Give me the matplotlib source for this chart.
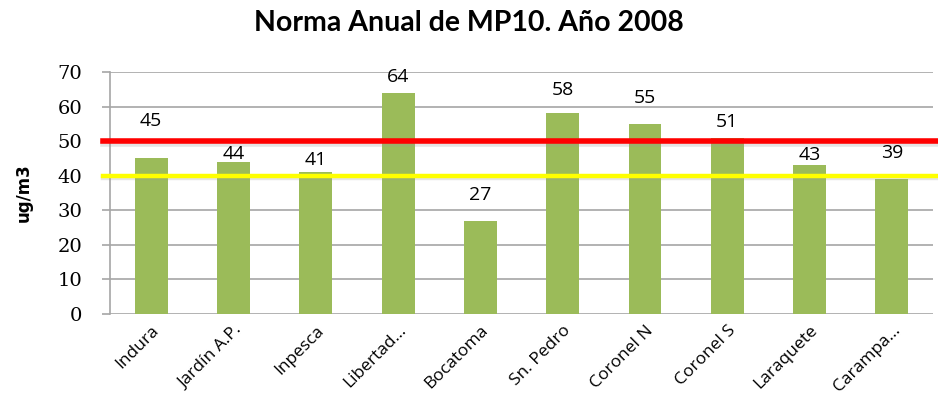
import matplotlib.pyplot as plt
import matplotlib.patheffects as pe

estaciones = ["Indura", "Jardín A.P.", "Inpesca", "Libertad...", "Bocatoma",
              "Sn. Pedro", "Coronel N", "Coronel S", "Laraquete", "Carampa..."]
mp10 = [45, 44, 41, 64, 27, 58, 55, 51, 43, 39]
norma_cl = 50
norma_eu = 40

# label shifts (points) as they were dragged in the original chart
label_dy = [27, 6, 8.6, 11, 18.5, 17, 18.6, 11.3, 7.4, 18.7]

fig = plt.figure(figsize=(9.38, 4.19), dpi=100)
ax = fig.add_axes([0.1173, 0.2506, 0.8774, 0.5776])

x = range(len(estaciones))
ax.bar(x, mp10, width=0.4, color="#9BBB59", zorder=2)

for i, v in enumerate(mp10):
    ax.annotate(str(v), (i, v), xytext=(0, label_dy[i]), textcoords="offset points",
                ha="center", va="center", fontsize=14, family="Open Sans", zorder=5)

shadow = [pe.SimpleLineShadow(offset=(0, -2), shadow_color="#999999", alpha=0.25),
          pe.Normal()]
ax.axhline(norma_cl, xmin=-0.009, xmax=1.006, color="#FF0000", lw=4,
           clip_on=False, zorder=4, path_effects=shadow)
ax.axhline(norma_eu, xmin=-0.009, xmax=1.006, color="#FFFF00", lw=3.2,
           clip_on=False, zorder=4, path_effects=shadow)

ax.set_xlim(-0.5, len(estaciones) - 0.5)
ax.set_ylim(0, 70)
ax.set_yticks(range(0, 71, 10))
ax.yaxis.grid(True, color="#A6A6A6", lw=1.2, zorder=0)
ax.set_axisbelow(True)

for s in ["top", "right", "bottom"]:
    ax.spines[s].set_visible(False)
ax.spines["left"].set_color("#A6A6A6")
ax.spines["left"].set_linewidth(1.2)
ax.tick_params(axis="y", length=6, color="#A6A6A6", width=1.2, labelsize=14, pad=14)
ax.tick_params(axis="x", length=0, pad=6)
for t in ax.get_yticklabels():
    t.set_family("DejaVu Serif")

ax.set_xticks(list(x))
ax.set_xticklabels(estaciones, rotation=45, ha="right", rotation_mode="anchor",
                   fontsize=12.5, family="Open Sans")

ax.set_ylabel("ug/m3", fontsize=12, fontweight="bold", family="DejaVu Sans", labelpad=18)

fig.text(0.5, 0.945, "Norma Anual de MP10. Año 2008", ha="center", va="center",
         fontsize=20.5, fontweight="bold", family="Lato")

fig.savefig("out.png", dpi=100)
